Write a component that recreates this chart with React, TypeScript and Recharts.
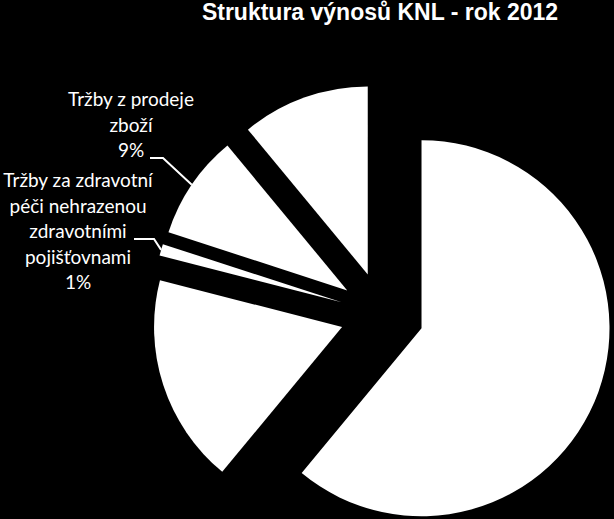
import React from 'react';
import { PieChart, Pie, Cell } from 'recharts';

// slice order follows the original: clockwise from 12 o'clock
const categories = [
  'Tržby od zdravotních pojišťoven',
  'Ostatní výnosy',
  'Tržby za zdravotní péči nehrazenou zdravotními pojišťovnami',
  'Tržby z prodeje zboží',
  'Ostatní tržby',
];
const shares = [61, 18, 1, 9, 11];

// label text as it is broken into lines on the picture
const careLines = ['Tržby za zdravotní', 'péči nehrazenou', 'zdravotními', 'pojišťovnami'];
const goodsLines = ['Tržby z prodeje', 'zboží'];

const data = categories.map((name, i) => ({ name, value: shares[i] }));

const W = 614;
const H = 519;
const CX = 382;
const CY = 314;
const R = 188;
const EXPLODE = 42;
const RAD = Math.PI / 180;
const LINE_H = 25.5;

// mid angle of every slice, degrees clockwise from the top
const total = shares.reduce((a, b) => a + b, 0);
let acc = 0;
const mids = shares.map((v) => {
  const m = ((acc + v / 2) / total) * 360;
  acc += v;
  return m;
});

// where each label block sits and which line the leader joins
const labelSpecs: Record<number, { lines: string[]; textX: number; firstBaseline: number; joinLine: number; lineX: number; elbow: number }> = {
  2: { lines: careLines, textX: 78, firstBaseline: 187, joinLine: 2, lineX: 134, elbow: 20 },
  3: { lines: goodsLines, textX: 131, firstBaseline: 106, joinLine: 2, lineX: 150, elbow: 13 },
};

const renderLabel = (props: any) => {
  const { cx, cy, midAngle, outerRadius, index, percent } = props;
  const spec = labelSpecs[index];
  if (!spec) return null;
  const ax = cx + outerRadius * Math.cos(-midAngle * RAD);
  const ay = cy + outerRadius * Math.sin(-midAngle * RAD);
  const lines = [...spec.lines, `${Math.round(percent * 100)}%`];
  const joinY = spec.firstBaseline + spec.joinLine * LINE_H + 1;
  return (
    <g key={`lbl-${index}`}>
      <polyline
        points={`${spec.lineX},${joinY} ${spec.lineX + spec.elbow},${joinY} ${ax},${ay}`}
        fill="none"
        stroke="#fff"
        strokeWidth={2}
      />
      {lines.map((t, i) => (
        <text
          key={i}
          x={spec.textX}
          y={spec.firstBaseline + i * LINE_H}
          textAnchor="middle"
          fill="#fff"
          style={{ fontFamily: 'Lato, sans-serif', fontSize: 19 }}
        >
          {t}
        </text>
      ))}
    </g>
  );
};

export default function App() {
  return (
    <div style={{ position: 'absolute', left: 0, top: 0, width: W, height: H, background: '#000', overflow: 'hidden' }}>
      <div
        style={{
          position: 'absolute',
          left: 180,
          top: 1,
          width: 400,
          textAlign: 'center',
          color: '#fff',
          fontFamily: '"Liberation Sans", Arial, sans-serif',
          fontWeight: 'bold',
          fontSize: 23,
          lineHeight: '23px',
        }}
      >
        Struktura výnosů KNL - rok 2012
      </div>
      <PieChart width={W} height={H} margin={{ top: 0, right: 0, bottom: 0, left: 0 }}>
        {mids.map((m, k) => (
          <Pie
            key={k}
            data={data}
            dataKey="value"
            nameKey="name"
            cx={CX + EXPLODE * Math.sin(m * RAD)}
            cy={CY - EXPLODE * Math.cos(m * RAD)}
            outerRadius={R}
            startAngle={90}
            endAngle={-270}
            stroke="none"
            isAnimationActive={false}
            labelLine={false}
            label={(p: any) => (p.index === k ? renderLabel(p) : null)}
          >
            {data.map((d, i) => (
              <Cell key={d.name} fill={i === k ? '#fff' : 'none'} />
            ))}
          </Pie>
        ))}
      </PieChart>
    </div>
  );
}
